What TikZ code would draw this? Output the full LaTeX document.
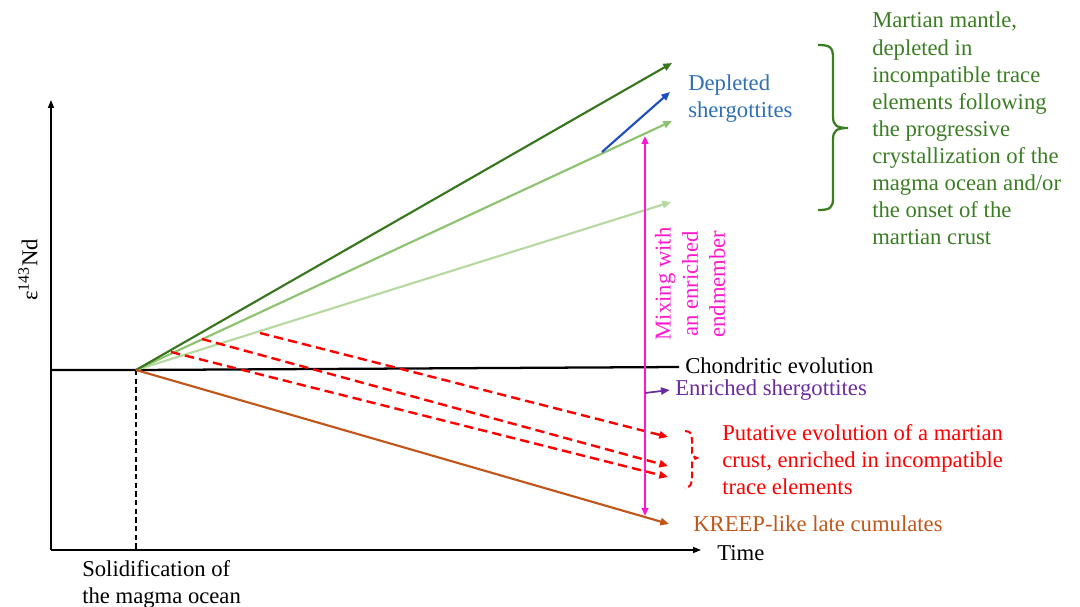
\documentclass[tikz,border=0pt]{standalone}
\usepackage{fontspec}
\setmainfont{Liberation Serif}
\usetikzlibrary{arrows.meta}
\definecolor{dkgreen}{HTML}{38761D}
\definecolor{mdgreen}{HTML}{8DC26F}
\definecolor{ltgreen}{HTML}{B6D9A2}
\definecolor{dblue}{HTML}{1F4FBF}
\definecolor{tblue}{HTML}{2E6FB7}
\definecolor{mag}{HTML}{FF17D0}
\definecolor{purp}{HTML}{6A2C9E}
\definecolor{brn}{HTML}{C1561A}
\definecolor{tgreen}{HTML}{3B7D23}
\begin{document}
\begin{tikzpicture}[x=0.75pt,y=-0.75pt,
  lbl/.style={font=\fontsize{17}{20.3}\selectfont, inner sep=0pt, anchor=west, align=left},
  tip/.style={-{Triangle[length=6.5pt,width=5.5pt]}},
  evo/.style={tip, line width=1.6pt},
  crust/.style={tip, line width=1.8pt, red, dash pattern=on 7pt off 3.8pt},
  ax/.style={-{Triangle[length=6pt,width=4.5pt]}, line width=1.1pt, black}]
\useasboundingbox (0,0) rectangle (1080,606);

% coordinates
\coordinate (O) at (136,370);
\coordinate (yb) at (51,550);
\coordinate (yt) at (51,100);
\coordinate (xt) at (701,550);
\coordinate (chL) at (51,370);
\coordinate (chR) at (679,367);
\coordinate (dg) at (672,63);
\coordinate (mg) at (672,121);
\coordinate (lg) at (671,202);
\coordinate (bs) at (602,152);
\coordinate (bt) at (670,92);
\coordinate (br) at (669,524);
\coordinate (mt) at (645,136);
\coordinate (mb) at (645,516);
\coordinate (ps) at (645,393);
\coordinate (r1s) at (260,333);
\coordinate (r1e) at (668,437);
\coordinate (r2s) at (202,339);
\coordinate (r2e) at (668,466);
\coordinate (r3s) at (171,352);
\coordinate (r3e) at (668,477);

% axes
\draw[ax] (yb) -- (yt);
\draw[ax] (yb) -- (xt);
\draw[line width=1.4pt, dash pattern=on 4pt off 2.5pt] (O) -- (O |- yb);

% chondritic
\draw[line width=1.7pt] (chL) -- (O) -- (chR);

% evolution lines
\draw[evo, ltgreen] (O) -- (lg);
\draw[evo, mdgreen] (O) -- (mg);
\draw[evo, dkgreen] (O) -- (dg);
\draw[evo, dblue] (bs) -- (bt);
\draw[evo, brn] (O) -- (br);

% crust dashed
\draw[crust] (r1s) -- (r1e);
\draw[crust] (r2s) -- (r2e);
\draw[crust] (r3s) -- (r3e);

% mixing
\draw[{Triangle[length=6pt,width=5pt]}-{Triangle[length=6pt,width=5pt]}, line width=1.5pt, mag] (mt) -- (mb);

% labels
\node[lbl] (chond) at (685,366) {Chondritic evolution};
\node[lbl, text=purp] (enr) at (675,390) {Enriched shergottites};
\draw[evo, purp, line width=1.3pt] (ps) -- ([xshift=-4pt]enr.west);
\node[lbl, text=brn] (kreep) at (693,524) {KREEP-like late cumulates};
\node[lbl] (time) at (717,553) {Time};
\node[lbl] (solid) at (82,584) {Solidification of\\the magma ocean};
\node[font=\fontsize{17}{20.3}\selectfont, inner sep=0pt, rotate=90] (eps) at (28,270) {ε\textsuperscript{143}Nd};
\node[font=\fontsize{17}{20.3}\selectfont, inner sep=0pt, rotate=90, align=center, text=mag] (mix) at (690,284) {Mixing with\\an enriched\\endmember};
\node[lbl, text=tblue] (dep) at (688,98.5) {Depleted\\shergottites};
\node[lbl, text=red] (put) at (722,460) {Putative evolution of a martian\\crust, enriched in incompatible\\trace elements};
\node[lbl, text=tgreen] (mant) at (872,128.5) {Martian mantle,\\depleted in\\incompatible trace\\elements following\\the progressive\\crystallization of the\\magma ocean and/or\\the onset of the\\martian crust};

% braces
\draw[tgreen, line width=1.7pt] (818,45) .. controls (830,45) and (833,47) .. (833,58) -- (833,116)
  .. controls (833,125) and (836,128) .. (848,128)
  .. controls (836,128) and (833,131) .. (833,140) -- (833,198)
  .. controls (833,208) and (830,210) .. (818,210);
\draw[red, line width=1.5pt, dash pattern=on 5pt off 2.5pt] (685,431) .. controls (691,432) .. (692,440) -- (692,450)
  .. controls (692,456) .. (697,458)
  .. controls (692,460) .. (692,466) -- (692,478)
  .. controls (691,486) .. (685,488);
\end{tikzpicture}
\end{document}
